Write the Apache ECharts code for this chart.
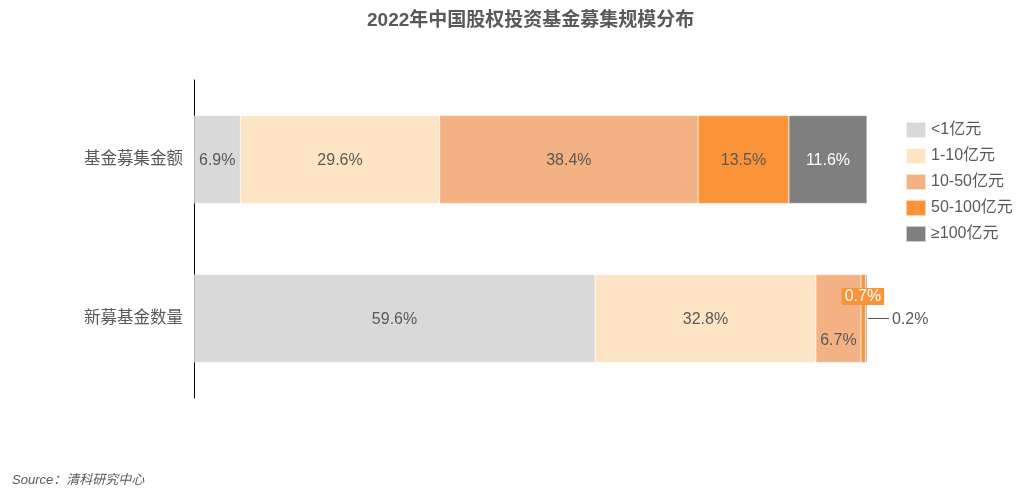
<!DOCTYPE html>
<html><head><meta charset="utf-8">
<script src="https://cdn.jsdelivr.net/npm/echarts@6/dist/echarts.min.js"></script>
<style>html,body{margin:0;padding:0;background:#fff}#c{width:1024px;height:498px}</style>
</head><body><div id="c"></div>
<script>
var categories = ['基金募集金额', '新募基金数量'];
var seriesNames = ['<1亿元', '1-10亿元', '10-50亿元', '50-100亿元', '≥100亿元'];
var sLt1 = [6.9, 59.6];
var s1to10 = [29.6, 32.8];
var s10to50 = [38.4, 6.7];
var s50to100 = [13.5, 0.7];
var sGe100 = [11.6, 0.2];
var colors = ['#d9d9d9', '#fde4c5', '#f4b183', '#fb9439', '#7f7f7f'];

var font = '"Liberation Sans", "Noto Sans CJK SC", sans-serif';
var txt = '#595959';
var allData = [sLt1, s1to10, s10to50, s50to100, sGe100];

function mkSeries(i) {
  var data = allData[i].map(function (v, j) {
    var d = { value: v };
    if (i === 2 && j === 1) d.label = { position: ['50%', 66], align: 'center', verticalAlign: 'middle', offset: [0, 0] };
    if (i === 3 && j === 1) d.label = { position: [2, 22], align: 'center', verticalAlign: 'middle', offset: [0, 0], color: '#fff', backgroundColor: '#fb9439', padding: [1, 3, 0, 3] };
    if (i === 4 && j === 1) d.label = { position: 'right', distance: 25, color: txt };
    return d;
  });
  return {
    name: seriesNames[i],
    type: 'bar',
    stack: 'total',
    barWidth: 88,
    itemStyle: { color: colors[i], borderColor: 'rgba(255,255,255,0.6)', borderWidth: 0.5 },
    label: {
      show: true,
      position: 'inside',
      offset: [0, 1.5],
      color: i === 4 ? '#fff' : txt,
      fontSize: 16,
      fontFamily: font,
      formatter: function (p) { return p.value.toFixed(1) + '%'; }
    },
    data: data
  };
}

var chart = echarts.init(document.getElementById('c'));
var series = [0, 1, 2, 3, 4].map(mkSeries);
series.push({
  type: 'line', silent: true, symbol: 'none', data: [],
  markLine: { silent: true, symbol: 'none', label: { show: false },
    lineStyle: { color: txt, width: 1, type: 'solid' },
    data: [[{ coord: [100, categories[1]], x: 868 }, { coord: [100, categories[1]], x: 889 }]]
  }
});
chart.setOption({
  animation: false,
  title: {
    text: '2022年中国股权投资基金募集规模分布',
    left: 362, top: 6,
    textStyle: { fontSize: 19, fontWeight: 'bold', color: txt, fontFamily: font }
  },
  legend: {
    orient: 'vertical', left: 900, top: 116,
    itemWidth: 20, itemHeight: 16, itemGap: 8,
    icon: 'rect',
    textStyle: { fontSize: 16, color: txt, fontFamily: font, lineHeight: 16 },
    data: seriesNames
  },
  grid: { left: 194, right: 157, top: 80, bottom: 100 },
  xAxis: { type: 'value', min: 0, max: 100, show: false },
  yAxis: {
    type: 'category', data: categories, inverse: true,
    axisLine: { lineStyle: { color: '#000', width: 1 } },
    axisTick: { show: false },
    axisLabel: { fontSize: 16.5, color: txt, fontFamily: font, margin: 11 }
  },
  graphic: [{
    type: 'text', left: 12, top: 474,
    style: { text: 'Source：清科研究中心', fill: '#595959', font: 'italic 13px ' + font }
  }],
  series: series
});
</script></body></html>
